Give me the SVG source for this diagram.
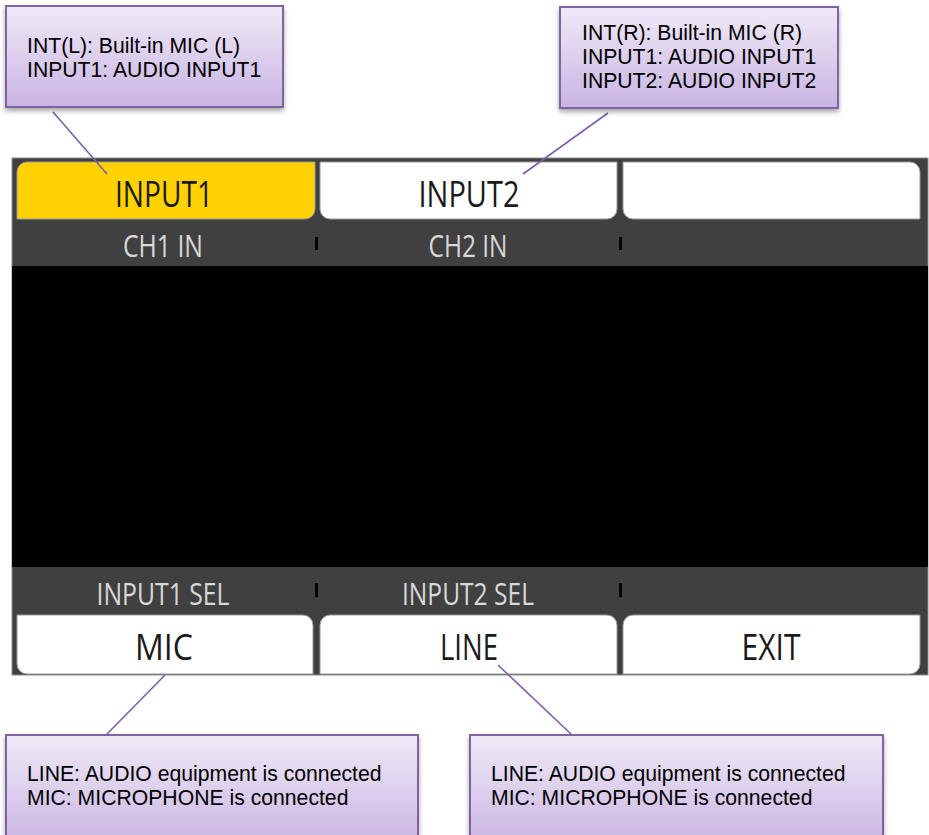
<svg xmlns="http://www.w3.org/2000/svg" width="929" height="835" viewBox="0 0 929 835">
<defs>
<linearGradient id="cg" x1="0" y1="0" x2="0" y2="1">
<stop offset="0" stop-color="#F0EAF7"/>
<stop offset="1" stop-color="#C8B4E2"/>
</linearGradient>
<filter id="sh" x="-10%" y="-10%" width="120%" height="130%">
<feDropShadow dx="0" dy="3" stdDeviation="2.5" flood-color="#000" flood-opacity="0.35"/>
</filter>
<style>
.call{fill:url(#cg);stroke:#8064A2;stroke-width:2;filter:url(#sh)}
.ct{font-family:"Liberation Sans",Arial,sans-serif;font-size:21.2px;fill:#000}
.conn{stroke:#7F5FA8;stroke-width:1.6;fill:none}
.btn{fill:#FFFFFF;stroke:#9a9a9a;stroke-width:1}
.sel{fill:#FFD200;stroke:#9a9a9a;stroke-width:1}
.bt{font-family:"Open Sans","DejaVu Sans",sans-serif;font-size:37px;fill:#1a1a1a;text-anchor:middle}
.lt{font-family:"Open Sans","DejaVu Sans",sans-serif;font-size:31px;fill:#D8D8D8;text-anchor:middle}
.tick{fill:#000}
</style>
</defs>
<rect width="929" height="835" fill="#FFFFFF"/>

<g id="screen">
<rect x="12" y="158" width="916" height="517" fill="#404040" stroke="#8a8a8a" stroke-width="1"/>
<rect x="12" y="266" width="916" height="301" fill="#000000"/>
</g>

<g id="btn-input1">
<path class="sel" d="M17,172 A10,10 0 0 1 27,162 H315 V209 A10,10 0 0 1 305,219 H17 Z"/>
<text class="bt" x="164" y="207" textLength="98" lengthAdjust="spacingAndGlyphs">INPUT1</text>
</g>
<g id="btn-input2">
<path class="btn" d="M320,162 H617 V209 A10,10 0 0 1 607,219 H330 A10,10 0 0 1 320,209 Z"/>
<text class="bt" x="469" y="207" textLength="101" lengthAdjust="spacingAndGlyphs">INPUT2</text>
</g>
<g id="btn-blank">
<path class="btn" d="M623,162 H910 A10,10 0 0 1 920,172 V219 H633 A10,10 0 0 1 623,209 Z"/>
</g>

<g id="label-top">
<text class="lt" x="163" y="257" textLength="80" lengthAdjust="spacingAndGlyphs">CH1 IN</text>
<text class="lt" x="468" y="257" textLength="79" lengthAdjust="spacingAndGlyphs">CH2 IN</text>
<rect class="tick" x="315" y="237" width="3" height="13"/>
<rect class="tick" x="619" y="237" width="3" height="13"/>
</g>

<g id="label-bottom">
<text class="lt" x="163" y="605" textLength="133" lengthAdjust="spacingAndGlyphs">INPUT1 SEL</text>
<text class="lt" x="468" y="605" textLength="132" lengthAdjust="spacingAndGlyphs">INPUT2 SEL</text>
<rect class="tick" x="315" y="583" width="3" height="14"/>
<rect class="tick" x="619" y="583" width="3" height="14"/>
</g>

<g id="btn-mic">
<path class="btn" d="M17,615 H303 A10,10 0 0 1 313,625 V674 H27 A10,10 0 0 1 17,664 Z"/>
<text class="bt" x="164" y="660" textLength="58" lengthAdjust="spacingAndGlyphs">MIC</text>
</g>
<g id="btn-line">
<path class="btn" d="M330,615 H607 A10,10 0 0 1 617,625 V674 H320 V625 A10,10 0 0 1 330,615 Z"/>
<text class="bt" x="469" y="660" textLength="58" lengthAdjust="spacingAndGlyphs">LINE</text>
</g>
<g id="btn-exit">
<path class="btn" d="M633,615 H920 V664 A10,10 0 0 1 910,674 H623 V625 A10,10 0 0 1 633,615 Z"/>
<text class="bt" x="771" y="660" textLength="59" lengthAdjust="spacingAndGlyphs">EXIT</text>
</g>

<g id="connectors">
<line class="conn" x1="53" y1="112" x2="107" y2="174"/>
<line class="conn" x1="608" y1="113" x2="523" y2="174"/>
<line class="conn" x1="165" y1="675" x2="107" y2="734"/>
<line class="conn" x1="498" y1="665" x2="571" y2="734"/>
</g>

<g id="callout-tl">
<rect class="call" x="6" y="6" width="277" height="101"/>
<text class="ct" x="27" y="52.5">INT(L): Built-in MIC (L)</text>
<text class="ct" x="27" y="76.5">INPUT1: AUDIO INPUT1</text>
</g>
<g id="callout-tr">
<rect class="call" x="560" y="7" width="278" height="101"/>
<text class="ct" x="582" y="39.5">INT(R): Built-in MIC (R)</text>
<text class="ct" x="582" y="63.5">INPUT1: AUDIO INPUT1</text>
<text class="ct" x="582" y="87.5">INPUT2: AUDIO INPUT2</text>
</g>
<g id="callout-bl">
<rect class="call" x="6" y="735" width="412" height="112"/>
<text class="ct" x="27" y="780.5">LINE: AUDIO equipment is connected</text>
<text class="ct" x="27" y="805">MIC: MICROPHONE is connected</text>
</g>
<g id="callout-br">
<rect class="call" x="470" y="735" width="413" height="112"/>
<text class="ct" x="491" y="780.5">LINE: AUDIO equipment is connected</text>
<text class="ct" x="491" y="805">MIC: MICROPHONE is connected</text>
</g>
</svg>
